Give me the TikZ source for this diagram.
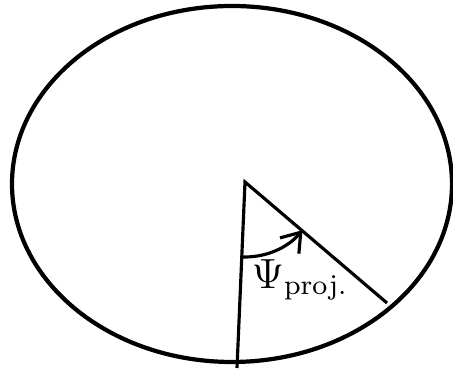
\documentclass[tikz,border=0pt]{standalone}
\usepackage{amsmath, amssymb}
\usepackage{tikz}
\usetikzlibrary{positioning, calc, arrows.meta}

\begin{document}
\begin{tikzpicture}[
	% Estilo para el contorno
	outline/.style={
		draw=black,
		line width=1.2pt
	},
	% Estilo para los radios
	spoke/.style={
		draw=black,
		line width=0.9pt
	},
	% Estilo para el arco del angulo
	anglearc/.style={
		draw=black,
		line width=0.9pt,
		-{Straight Barb[length=5pt, width=7pt]}
	},
	% Estilo para la etiqueta
	anglelabel/.style={
		font=\large,
		inner sep=0pt
	}
	]
	\useasboundingbox (0,0) rectangle (4.53,3.73);
	
	% --- Contorno ---
	\coordinate (c) at (2.32,1.89);
	\draw[outline] (c) ellipse [x radius=2.20, y radius=1.78];
	
	% --- Radios ---
	\coordinate (apex) at (2.45,1.91);
	\coordinate (bottom) at (2.37,0.05);
	\coordinate (rim) at (3.87,0.70);
	\draw[spoke] (bottom) -- (apex) -- (rim);
	
	% --- Angulo ---
	\draw[anglearc] ($(apex)!0.75cm!(bottom)$) arc [start angle=267.5, end angle=320, radius=0.75cm];
	\node[anglelabel] (psi) at (3.00,0.93) {$\Psi_{\mathrm{proj.}}$};
	
\end{tikzpicture}
\end{document}
